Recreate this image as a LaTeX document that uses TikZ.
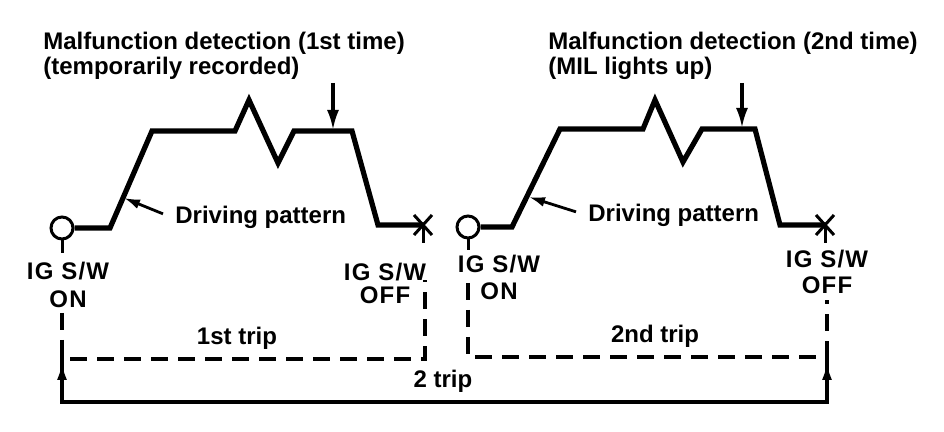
\documentclass[tikz,border=0pt]{standalone}
\usepackage{fontspec}
\setmainfont{Liberation Sans}
\usetikzlibrary{arrows.meta,calc}

\begin{document}
\begin{tikzpicture}[
  x=0.5pt, y=-0.5pt,
  every node/.style={font=\bfseries\fontsize{12}{10.5}\selectfont, inner sep=0pt},
  drive/.style={line width=2.6pt, line join=miter},
  sw/.style={circle, draw, line width=1.5pt, minimum size=11pt, fill=white},
  stem/.style={line width=1.5pt},
  pointer/.style={-{Latex[length=8pt,width=5pt]}, line width=1.4pt},
  marker/.style={-{Latex[length=10pt,width=6pt]}, line width=1.6pt},
  trip/.style={line width=1.6pt, dash pattern=on 8.5pt off 5pt},
  span/.style={line width=1.7pt},
  swlabel/.style={align=center, anchor=north, font=\bfseries\fontsize{12}{13}\selectfont\addfontfeature{LetterSpace=5}}
]
\useasboundingbox (0,0) rectangle (944,432);

% first trip
\node[sw] (on1) at (62,228) {};
\coordinate (off1) at (423,225);
\draw[drive] (on1.east) -- (110,228) -- (152,131) -- (235,131) -- (249,100)
  -- (278,163) -- (294,131) -- (352,131) -- (378,225) -- (off1);

% second trip
\node[sw] (on2) at (468,227) {};
\coordinate (off2) at (825,225);
\draw[drive] (on2.east) -- (512,227) -- (560,129) -- (643,129) -- (655,100)
  -- (683,162) -- (702,129) -- (755,129) -- (780,225) -- (off2);

% switch-off marks
\foreach \p in {off1,off2} {
  \draw[stem] ([shift={(-9,-10)}]\p) -- ([shift={(9,10)}]\p);
  \draw[stem] ([shift={(-9,10)}]\p) -- ([shift={(9,-10)}]\p);
  \draw[stem] (\p) -- ++(0,18);
}
\draw[stem] (on1.south) -- ++(0,13);
\draw[stem] (on2.south) -- ++(0,11);

% detection labels
\node[align=left, anchor=north west] (mal1) at (43,32)
  {Malfunction detection (1st time)\\(temporarily recorded)};
\node[align=left, anchor=north west] (mal2) at (548,32)
  {Malfunction detection (2nd time)\\(MIL lights up)};
\coordinate (det1) at (333,83);
\coordinate (det2) at (742,83);
\draw[marker] (det1) -- (det1 |- 0,130);
\draw[marker] (det2) -- (det2 |- 0,128);

% driving pattern labels
\node[anchor=base west] (drv1) at (175,224) {Driving pattern};
\node[anchor=base west] (drv2) at (588,222) {Driving pattern};
\coordinate (hit1) at (124,198);
\coordinate (hit2) at (529,197);
\draw[pointer] ([xshift=-6pt,yshift=2pt]drv1.west) -- (hit1);
\draw[pointer] ([xshift=-6pt,yshift=2pt]drv2.west) -- (hit2);

% switch labels
\node[swlabel, font=\bfseries\fontsize{12}{14}\selectfont\addfontfeature{LetterSpace=5}] (ig1) at (68,262) {IG S/W\\ON};
\node[swlabel, font=\bfseries\fontsize{12}{11.5}\selectfont\addfontfeature{LetterSpace=5}] (ig2) at (385,263) {IG S/W\\OFF};
\node[swlabel, font=\bfseries\fontsize{12}{13.5}\selectfont\addfontfeature{LetterSpace=5}] (ig3) at (499,255) {IG S/W\\ON};
\node[swlabel] (ig4) at (827,250) {IG S/W\\OFF};

% trips
\coordinate (a1) at (62,313);
\coordinate (a2) at (425,280);
\coordinate (b1) at (468,283);
\coordinate (b2) at (827,300);
\draw[trip] (a1) -- (62,359) -| (a2);
\draw[trip] (b1) -- (468,357) -| (b2);
\node[anchor=base] (t1) at (237,345) {1st trip};
\node[anchor=base] (t2) at (655,343) {2nd trip};

% whole span
\coordinate (c1) at (62,344);
\coordinate (c2) at (827,346);
\coordinate (e1) at (62,402);
\coordinate (e2) at (827,402);
\draw[span] (c1) -- (e1) -- (e2) -- (c2);
\draw[span, -{Latex[length=9pt,width=5pt]}] (e1) -- (62,362);
\draw[span, -{Latex[length=9pt,width=5pt]}] (e2) -- (827,362);
\node[anchor=base] (t3) at (443,388) {2 trip};

\end{tikzpicture}
\end{document}
